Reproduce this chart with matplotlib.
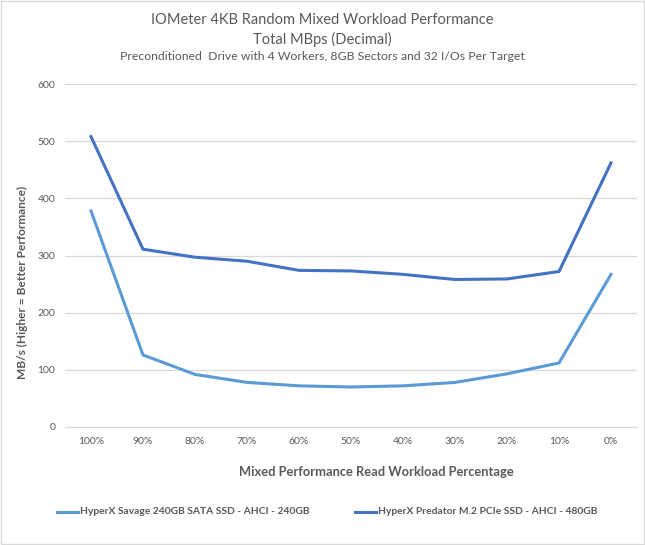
import matplotlib.pyplot as plt
from matplotlib.patches import Rectangle

categories = ["100%", "90%", "80%", "70%", "60%", "50%", "40%", "30%", "20%", "10%", "0%"]
savage = [378, 126, 92, 78, 72, 70, 72, 78, 93, 112, 267]
predator = [508, 311, 297, 290, 274, 273, 267, 258, 259, 272, 462]
series_names = ["HyperX Savage 240GB SATA SSD - AHCI - 240GB",
                "HyperX Predator M.2 PCIe SSD - AHCI - 480GB"]
yticks = [0, 100, 200, 300, 400, 500, 600]

plt.rcParams['font.family'] = ['Lato', 'DejaVu Sans']
txt = '#595959'

fig = plt.figure(figsize=(6.45, 5.45), dpi=100)
ax = fig.add_axes([65 / 645, 1 - 427 / 545, 572 / 645, 343 / 545])

x = list(range(len(categories)))
ax.plot(x, savage, color='#5B9BD5', lw=2.2, solid_joinstyle='round')
ax.plot(x, predator, color='#4472C4', lw=2.2, solid_joinstyle='round')

ax.set_xlim(-0.5, len(categories) - 0.5)
ax.set_ylim(0, 600)
ax.set_yticks(yticks)
ax.set_xticks(x)
ax.set_xticklabels(categories)
ax.grid(axis='y', color='#d9d9d9', lw=0.9)
ax.set_axisbelow(True)
for s in ['top', 'right', 'left']:
    ax.spines[s].set_visible(False)
ax.spines['bottom'].set_color('#d9d9d9')
ax.tick_params(length=0, labelsize=7.5, colors=txt)
ax.tick_params(axis='x', pad=7)
ax.tick_params(axis='y', pad=7)

fig.text(0.5, 1 - 20 / 545, "IOMeter 4KB Random Mixed Workload Performance",
         ha='center', va='center', fontsize=10.5, color=txt)
fig.text(0.5, 1 - 39 / 545, "Total MBps (Decimal)",
         ha='center', va='center', fontsize=10.5, color=txt)
fig.text(0.5, 1 - 57 / 545, "Preconditioned  Drive with 4 Workers, 8GB Sectors and 32 I/Os Per Target",
         ha='center', va='center', fontsize=8.8, color=txt)

fig.text(22 / 645, 1 - 282 / 545, "MB/s (Higher = Better Performance)",
         rotation=90, ha='center', va='center', fontsize=8.6, fontweight='bold', color=txt)
fig.text(376 / 645, 1 - 472 / 545, "Mixed Performance Read Workload Percentage",
         ha='center', va='center', fontsize=9.3, fontweight='bold', color=txt)

# legend
ly = 1 - 512 / 545
for x0, col, name in [(57, '#5B9BD5', series_names[0]), (355, '#4472C4', series_names[1])]:
    fig.add_artist(plt.Line2D([x0 / 645, (x0 + 21) / 645], [ly, ly], color=col, lw=2.2))
    fig.text((x0 + 23) / 645, ly, name, ha='left', va='center', fontsize=7.4, fontweight='bold', color=txt)

fig.add_artist(Rectangle((0.002, 0.002), 0.996, 0.996, transform=fig.transFigure,
                         fill=False, edgecolor='#d9d9d9', lw=1))

fig.savefig('out.png', dpi=100)
